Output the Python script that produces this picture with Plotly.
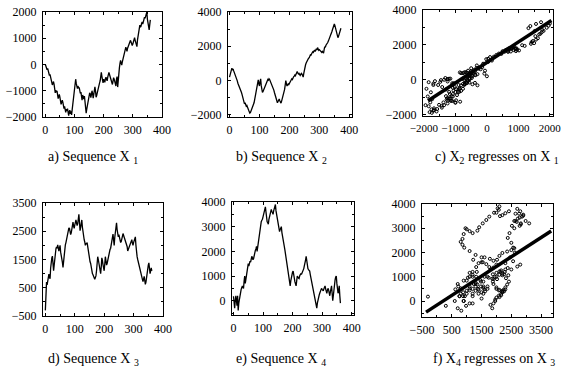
import plotly.graph_objects as go

step = 2
x1_vals = [0, -80, -60, -200, -150, -260, -330, -420, -380, -520, -560, -640, -780, -720, -650, -760, -900, -1080, -980, -1060,
           -1000, -1180, -1300, -1220, -1140, -1250, -1380, -1520, -1440, -1360, -1430, -1580, -1680, -1600, -1750, -1820, -1700, -1760, -1680, -1850,
           -1950, -1800, -1740, -1880, -1780, -1920, -1700, -1480, -1250, -1100, -820, -600, -560, -720, -860, -920, -820, -900, -870, -1020,
           -1100, -1050, -1250, -1360, -1160, -1250, -1320, -1200, -1460, -1650, -1850, -1700, -1550, -1420, -1300, -1200, -1080, -1120, -1260, -1150,
           -1000, -1100, -1280, -1150, -980, -850, -1000, -1250, -1180, -1080, -950, -880, -760, -700, -620, -380, -300, -460, -640, -700,
           -560, -620, -680, -540, -480, -560, -620, -480, -360, -300, -380, -460, -520, -600, -680, -760, -640, -500, -560, -620,
           -720, -820, -560, -460, -860, -500, -320, -120, 40, 160, 40, -20, 100, 220, 300, 380, 460, 560, 660, 580,
           500, 620, 700, 680, 760, 840, 920, 860, 800, 720, 780, 900, 960, 1020, 920, 850, 760, 680, 940, 1120,
           1200, 1400, 1500, 1420, 1460, 1560, 1620, 1540, 1660, 1740, 1800, 1760, 1900, 1960, 2000, 1720, 1560, 1380, 1320, 1520,
           1700]

x2_vals = [200, 350, 520, 600, 720, 640, 680, 560, 480, 400, 300, 180, 60, -20, -160, -240, -300, -460, -540, -620,
           -700, -820, -940, -1060, -1200, -1360, -1300, -1440, -1500, -1460, -1600, -1680, -1740, -1820, -1900, -1860, -1780, -1700, -1640, -1520,
           -1460, -1300, -1120, -960, -720, -520, -300, -120, 40, -200, -320, -80, 100, -300, -520, -700, -640, -560, -480, -420,
           -300, -200, -100, 0, 60, 20, 100, 60, -20, -80, -140, -220, -300, -420, -560, -700, -820, -940, -1060, -1200,
           -1300, -1220, -1140, -1080, -1180, -1260, -1320, -1200, -1080, -960, -880, -700, -520, -260, 0, -180, -320, -260, -200, -240,
           -160, -80, -40, 40, 100, 60, 180, 220, 260, 320, 280, 380, 460, 520, 440, 380, 420, 340, 300, 360,
           420, 380, 280, 200, 420, 660, 820, 920, 1020, 1100, 1200, 1180, 1300, 1320, 1420, 1500, 1480, 1600, 1620, 1680,
           1640, 1720, 1780, 1700, 1820, 1860, 1780, 1920, 1840, 1760, 1800, 1740, 1720, 1680, 1640, 1700, 1620, 1600, 1800, 1980,
           1940, 2060, 2100, 2160, 2220, 2300, 2380, 2500, 2600, 2720, 2800, 2860, 2980, 3100, 3220, 3300, 3200, 3080, 2960, 2800,
           2640, 2500, 2580, 2700, 2780, 2900, 3050]

x3_vals = [-300, 300, 700, 600, 760, 900, 980, 880, 820, 1200, 1500, 1560, 1620, 1400, 1100, 1300, 1560, 1700, 1880, 1940,
           1900, 2020, 1880, 1800, 1900, 2000, 1760, 1660, 1540, 1400, 1220, 1500, 1780, 1900, 2020, 2100, 2200, 2360, 2500, 2560,
           2620, 2600, 2500, 2380, 2440, 2600, 2780, 2820, 2680, 2600, 2720, 2860, 2900, 2800, 2700, 2760, 2980, 3100, 2820, 2520,
           2640, 2780, 2900, 2640, 2420, 2300, 2200, 2120, 2000, 2080, 2040, 2100, 1920, 1760, 1660, 1540, 1420, 1360, 1200, 1100,
           1000, 960, 900, 860, 800, 860, 920, 1100, 1300, 1600, 1500, 1320, 1200, 1100, 1000, 1240, 1560, 1480, 1320, 1200,
           1100, 1340, 1600, 1460, 1300, 1360, 1480, 1560, 1700, 1740, 1860, 1900, 2000, 2100, 2260, 2400, 2200, 2000, 2280, 2500,
           2700, 2800, 2560, 2460, 2300, 2380, 2300, 2160, 2100, 2140, 2200, 2320, 2420, 2360, 2300, 2240, 2200, 2160, 2100, 1960,
           1800, 1860, 1900, 1960, 2000, 2080, 2160, 2200, 2080, 2000, 2100, 2200, 2260, 2300, 2000, 1700, 1600, 1500, 1400, 1300,
           1200, 1100, 1000, 940, 880, 800, 720, 800, 900, 760, 620, 700, 900, 1040, 1200, 1300, 1380, 1200, 1000, 1100,
           1200, 1100]

x4_vals = [180, -200, -300, 0, 200, 0, -200, 200, -400, -100, 100, 300, 400, 460, 520, 600, 540, 500, 800, 1000,
           700, 900, 1100, 1300, 1380, 1500, 1400, 1520, 1600, 1560, 1700, 1800, 1740, 1660, 1700, 1860, 1980, 2040, 2100, 2200,
           2000, 2180, 2400, 2600, 2800, 3000, 3100, 3200, 3260, 3300, 3400, 3480, 3560, 3700, 3800, 3600, 3300, 3200, 3160, 3100,
           3300, 3440, 3520, 3600, 3700, 3620, 3540, 3500, 3640, 3760, 3820, 3900, 3640, 3480, 3340, 3200, 3040, 2900, 2800, 2880,
           2960, 3000, 2760, 2560, 2440, 2320, 2200, 2060, 1900, 1800, 1600, 1400, 1200, 1000, 840, 700, 600, 800, 1000, 1080,
           1160, 1200, 1000, 860, 760, 680, 600, 800, 1000, 960, 920, 900, 1000, 1080, 1100, 1060, 1120, 1160, 1200, 1300,
           1420, 1500, 1640, 1800, 1560, 1360, 1300, 1260, 1220, 1200, 1060, 940, 800, 680, 560, 460, 360, 240, 160, 0,
           -160, -300, -100, 60, 140, 220, 300, 380, 440, 500, 460, 420, 400, 480, 560, 600, 480, 360, 300, 420,
           500, 440, 300, 200, 360, 520, 600, 300, 0, 200, 480, 700, 840, 960, 1000, 700, 500, 300, 420, 600,
           200, -100]

# regression lines, endpoints
reg_c_x = [-1870, 2050]
reg_c_y = [-1210, 3400]
reg_f_x = [-364, 3840]
reg_f_y = [-460, 2890]

titles = ["a) Sequence X <sub>1</sub>", "b) Sequence X <sub>2</sub>", "c) X<sub>2</sub> regresses on X <sub>1</sub>",
          "d) Sequence X <sub>3</sub>", "e) Sequence X <sub>4</sub>", "f) X<sub>4</sub> regresses on X <sub>3</sub>"]

t1 = [i * step for i in range(len(x1_vals))]
t2 = [i * step for i in range(len(x2_vals))]
t3 = [i * step for i in range(len(x3_vals))]
t4 = [i * step for i in range(len(x4_vals))]
nc = min(len(x1_vals), len(x2_vals))
nf = min(len(x3_vals), len(x4_vals))

W, H = 562, 370
FONT = "Liberation Serif, Times New Roman, serif"

# panel boxes in pixels: (left, right, top, bottom)
boxes = {
    1: (43, 162, 12, 117),
    2: (228, 352, 12, 117),
    3: (423, 553, 10, 116),
    4: (43, 163, 203, 316),
    5: (232, 354, 202, 315),
    6: (422, 553, 204, 317),
}
# title centres in pixels (x, y)
title_pos = {1: (93, 157), 2: (281, 157), 3: (497, 157), 4: (93, 359), 5: (281, 359), 6: (494, 359)}

fig = go.Figure()
line_style = dict(color="black", width=1.3)
mk = dict(symbol="circle-open", size=3, color="black", line=dict(width=1, color="black"))

fig.add_trace(go.Scatter(x=t1, y=x1_vals, mode="lines", line=line_style, xaxis="x", yaxis="y"))
fig.add_trace(go.Scatter(x=t2, y=x2_vals, mode="lines", line=line_style, xaxis="x2", yaxis="y2"))
fig.add_trace(go.Scatter(x=x1_vals[:nc], y=x2_vals[:nc], mode="markers", marker=mk, xaxis="x3", yaxis="y3"))
fig.add_trace(go.Scatter(x=reg_c_x, y=reg_c_y, mode="lines", line=dict(color="black", width=3.5), xaxis="x3", yaxis="y3"))
fig.add_trace(go.Scatter(x=t3, y=x3_vals, mode="lines", line=line_style, xaxis="x4", yaxis="y4"))
fig.add_trace(go.Scatter(x=t4, y=x4_vals, mode="lines", line=line_style, xaxis="x5", yaxis="y5"))
fig.add_trace(go.Scatter(x=x3_vals[:nf], y=x4_vals[:nf], mode="markers", marker=mk, xaxis="x6", yaxis="y6"))
fig.add_trace(go.Scatter(x=reg_f_x, y=reg_f_y, mode="lines", line=dict(color="black", width=3.5), xaxis="x6", yaxis="y6"))

xr = {1: [-8, 400], 2: [-5, 409], 3: [-2030, 2100], 4: [-8, 400], 5: [-5, 408], 6: [-500, 3900]}
yr = {1: [-2000, 2000], 2: [-2130, 4000], 3: [-2080, 4000], 4: [-500, 3500], 5: [-580, 4000], 6: [-660, 4000]}
xt = {1: (0, 100, 50), 2: (0, 100, 50), 3: (-2000, 1000, 500), 4: (0, 100, 50), 5: (0, 100, 50), 6: (-500, 1000, 500)}
yt = {1: (-2000, 1000, 500), 2: (-2000, 2000, 1000), 3: (-2000, 2000, 1000), 4: (-500, 1000, 500), 5: (0, 1000, 500), 6: (0, 1000, 500)}
xfs = {1: 12, 2: 12, 3: 11, 4: 12, 5: 12, 6: 12}

layout = dict(width=W, height=H, margin=dict(l=0, r=0, t=0, b=0), showlegend=False,
              plot_bgcolor="white", paper_bgcolor="white",
              font=dict(family=FONT, size=12, color="black"))
common = dict(showline=True, linecolor="black", linewidth=1, mirror="ticks", ticks="inside", ticklen=3,
              tickcolor="black", showgrid=False, zeroline=False, automargin=False, tickangle=0,
              ticklabeloverflow="allow")
annotations = []
for k in range(1, 7):
    l, r, tp, bt = boxes[k]
    sx = "" if k == 1 else str(k)
    x0, dx, mdx = xt[k]
    y0, dy, mdy = yt[k]
    layout["xaxis" + sx] = dict(domain=[l / W, r / W], range=xr[k], anchor="y" + sx,
                                tick0=x0, dtick=dx, ticklabelstandoff=2,
                                tickfont=dict(family=FONT, size=xfs[k], color="black"),
                                minor=dict(ticks="inside", ticklen=2, dtick=mdx, tick0=x0, tickcolor="black"), **common)
    layout["yaxis" + sx] = dict(domain=[1 - bt / H, 1 - tp / H], range=yr[k], anchor="x" + sx,
                                tick0=y0, dtick=dy, ticklabelstandoff=3,
                                tickfont=dict(family=FONT, size=12, color="black"),
                                minor=dict(ticks="inside", ticklen=2, dtick=mdy, tick0=y0, tickcolor="black"), **common)
    tx, ty = title_pos[k]
    annotations.append(dict(text=titles[k - 1], xref="paper", yref="paper", x=tx / W, y=1 - ty / H,
                            xanchor="center", yanchor="middle", showarrow=False,
                            font=dict(family=FONT, size=14, color="black")))
layout["annotations"] = annotations
fig.update_layout(**layout)
fig.write_html("out.html", config={"displayModeBar": False},
               post_script="document.body.style.margin='0px';document.body.style.overflow='hidden';")
